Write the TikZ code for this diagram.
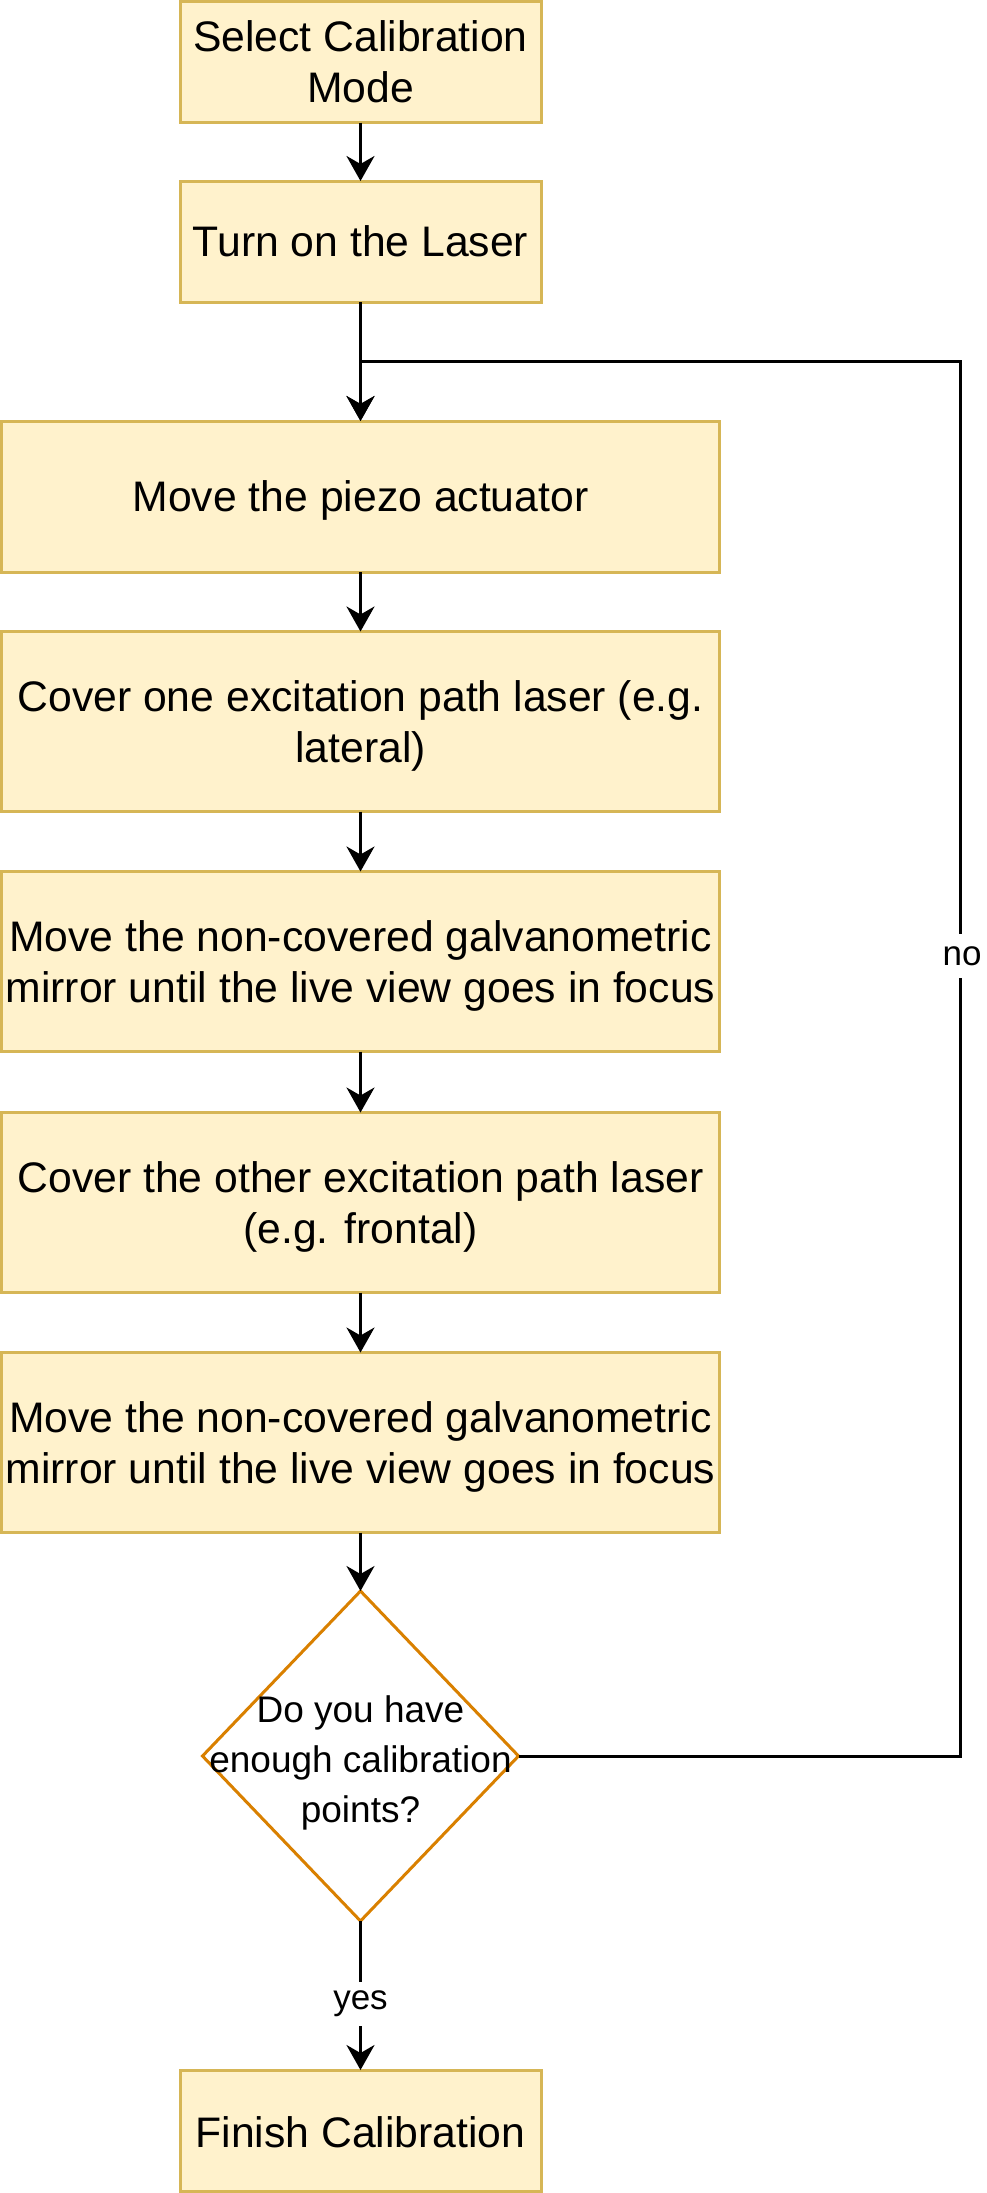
\documentclass[tikz,border=0pt]{standalone}
\usepackage{fontspec}
\setmainfont{Liberation Sans}
\usetikzlibrary{arrows.meta,shapes.geometric}
\definecolor{boxfill}{HTML}{FFF2CC}
\definecolor{boxline}{HTML}{D6B656}
\definecolor{decline}{HTML}{D98000}
\begin{document}
\begin{tikzpicture}[x=1pt,y=-1pt,
  stepbox/.style={draw=boxline,fill=boxfill,line width=3pt,inner sep=0pt,outer sep=0pt},
  smallbox/.style={stepbox,minimum width=361pt,minimum height=121pt},
  widebox/.style={stepbox,minimum width=718pt,minimum height=180pt},
  btext/.style={align=center,inner sep=0pt,font=\fontsize{42.7}{51}\selectfont},
  decbox/.style={diamond,draw=decline,fill=white,line width=3pt,inner sep=0pt,outer sep=0pt,
    minimum width=316pt,minimum height=330pt},
  dtext/.style={align=center,inner sep=0pt,font=\fontsize{37}{50}\selectfont},
  lbl/.style={fill=white,inner sep=2pt,minimum height=44pt,font=\fontsize{35}{42}\selectfont},
  arr/.style={draw,line width=3pt,-{Stealth[length=25pt,width=28pt,inset=8pt]}}]
\useasboundingbox (0,0) rectangle (987,2193);
\node[smallbox] (b1) at (360.5,62) {};
\node[smallbox] (b2) at (360.5,241.5) {};
\node[widebox,minimum height=151pt] (b3) at (360.5,496.5) {};
\node[widebox] (b4) at (360.5,721.5) {};
\node[widebox] (b5) at (360.5,961.5) {};
\node[widebox] (b6) at (360.5,1202.5) {};
\node[widebox] (b7) at (360.5,1442.5) {};
\node[decbox] (d) at (360.5,1756) {};
\node[smallbox] (b8) at (360.5,2130.5) {};
\node[btext] (t1) at ([yshift=0.5pt]b1.center) {Select Calibration\\Mode};
\node[btext] (t2) at ([yshift=0pt]b2.center) {Turn on the Laser};
\node[btext] (t3) at ([yshift=-4pt]b3.center) {Move the piezo actuator};
\node[btext] (t4) at ([yshift=-4pt]b4.center) {Cover one excitation path laser (e.g.\\lateral)};
\node[btext] (t5) at ([yshift=-4pt]b5.center) {Move the non-covered galvanometric\\mirror until the live view goes in focus};
\node[btext] (t6) at ([yshift=-4pt]b6.center) {Cover the other excitation path laser\\(e.g. frontal)};
\node[btext] (t7) at ([yshift=-4pt]b7.center) {Move the non-covered galvanometric\\mirror until the live view goes in focus};
\node[dtext] (dq) at (360.5,1763) {Do you have\\enough calibration\\points?};
\node[btext] (t8) at ([yshift=-1.5pt]b8.center) {Finish Calibration};
\coordinate (lr) at (960,1756);
\coordinate (ur) at (960,361);
\coordinate (jn) at (360.5,361);
\draw[arr] (b1.south) -- (b2.north);
\draw[arr] (b2.south) -- (b3.north);
\draw[arr] (d.east) -- (lr) -- (ur) -- (jn) -- (b3.north);
\draw[arr] (b3.south) -- (b4.north);
\draw[arr] (b4.south) -- (b5.north);
\draw[arr] (b5.south) -- (b6.north);
\draw[arr] (b6.south) -- (b7.north);
\draw[arr] (b7.south) -- (d.north);
\draw[arr] (d.south) -- (b8.north);
\node[lbl] (no) at (962,956) {no};
\node[lbl] (yes) at (360.5,2004) {yes};
\end{tikzpicture}
\end{document}
